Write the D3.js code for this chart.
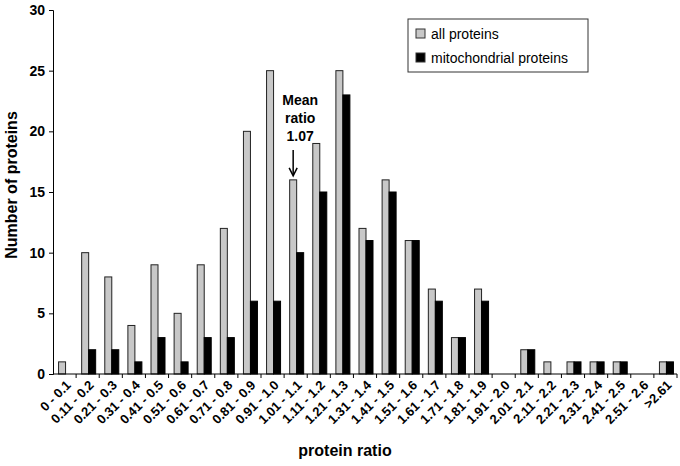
<!DOCTYPE html>
<meta charset="utf-8">
<style>
  body { margin: 0; background: white; }
  text { font-family: Arial, "Liberation Sans", sans-serif; }
  .axis path, .axis line { stroke: black; stroke-width: 1px; }
  .axis text { font-weight: bold; fill: black; }
  .title { font-weight: bold; font-size: 16px; }
  .legend text { font-size: 14px; }
</style>
<body>
<script src="https://cdn.jsdelivr.net/npm/d3@7"></script>
<script>

const categories = ["0 - 0.1", "0.11 - 0.2", "0.21 - 0.3", "0.31 - 0.4", "0.41 - 0.5",
  "0.51 - 0.6", "0.61 - 0.7", "0.71 - 0.8", "0.81 - 0.9", "0.91 - 1.0", "1.01 - 1.1",
  "1.11 - 1.2", "1.21 - 1.3", "1.31 - 1.4", "1.41 - 1.5", "1.51 - 1.6", "1.61 - 1.7",
  "1.71 - 1.8", "1.81 - 1.9", "1.91 - 2.0", "2.01 - 2.1", "2.11 - 2.2", "2.21 - 2.3",
  "2.31 - 2.4", "2.41 - 2.5", "2.51 - 2.6", ">2.61"]
const allProteins = [1, 10, 8, 4, 9, 5, 9, 12, 20, 25, 16, 19, 25, 12, 16, 11, 7, 3, 7, 0, 2, 1, 1, 1, 1, 0, 1]
const mitoProteins = [0, 2, 2, 1, 3, 1, 3, 3, 6, 6, 10, 15, 23, 11, 15, 11, 6, 3, 6, 0, 2, 0, 1, 1, 1, 0, 1]
const yTicks = [0, 5, 10, 15, 20, 25, 30]
const seriesNames = ["all proteins", "mitochondrial proteins"]
const colors = {all: "#c8c8c8", mito: "#000000"}

const margin = {top: 10, right: 3, bottom: 92, left: 53},
      width = 680 - margin.left - margin.right,
      height = 466 - margin.top - margin.bottom

const svg = d3.select("body")
  .append("svg")
    .attr("width", 680)
    .attr("height", 466)
  .append("g")
    .attr("transform", `translate(${margin.left}, ${margin.top})`)

const x = d3.scaleBand()
    .domain(categories)
    .range([0, width])

const y = d3.scaleLinear()
    .domain([0, 30])
    .range([height, 0])

const barW = 7

// bars
const groups = svg.selectAll(".grp")
  .data(categories)
  .enter().append("g")
    .attr("transform", d => `translate(${x(d) + x.bandwidth() / 2 + 1}, 0)`)

groups.filter((d, i) => allProteins[i] > 0)
  .append("rect")
    .attr("x", -barW)
    .attr("y", d => y(allProteins[categories.indexOf(d)]))
    .attr("width", barW)
    .attr("height", d => height - y(allProteins[categories.indexOf(d)]))
    .attr("fill", colors.all)
    .attr("stroke", "#222")
    .attr("stroke-width", 1)

groups.filter((d, i) => mitoProteins[i] > 0)
  .append("rect")
    .attr("x", 0)
    .attr("y", d => y(mitoProteins[categories.indexOf(d)]))
    .attr("width", barW)
    .attr("height", d => height - y(mitoProteins[categories.indexOf(d)]))
    .attr("fill", colors.mito)
    .attr("stroke", "#000")
    .attr("stroke-width", 1)

// y axis
svg.append("g")
  .attr("class", "axis")
  .call(d3.axisLeft(y).tickValues(yTicks).tickSize(4).tickPadding(4))
  .call(g => g.selectAll("text").style("font-size", "14px"))

// x axis with ticks on band edges
const xAxis = svg.append("g")
  .attr("class", "axis")
  .attr("transform", `translate(0, ${height})`)

xAxis.append("line")
  .attr("x1", 0).attr("x2", width)
  .attr("y1", 0).attr("y2", 0)

xAxis.selectAll(".tick")
  .data(categories)
  .enter().append("line")
    .attr("x1", d => x(d) + x.bandwidth())
    .attr("x2", d => x(d) + x.bandwidth())
    .attr("y1", 0).attr("y2", 4)

xAxis.selectAll(".lbl")
  .data(categories)
  .enter().append("text")
    .text(d => d)
    .attr("text-anchor", "end")
    .style("font-size", "13px")
    .attr("transform", d => `translate(${x(d) + x.bandwidth() / 2 + 7}, 12) rotate(-45)`)

// axis titles
svg.append("text")
  .attr("class", "title")
  .attr("x", width / 2 - 20)
  .attr("y", height + 82)
  .attr("text-anchor", "middle")
  .text("protein ratio")

svg.append("text")
  .attr("class", "title")
  .attr("transform", `translate(${-36}, ${height / 2 - 7}) rotate(-90)`)
  .attr("text-anchor", "middle")
  .text("Number of proteins")

// mean annotation
const meanCat = "1.01 - 1.1"
const meanX = x(meanCat) + x.bandwidth() / 2 - barW / 2 + 1
const ann = svg.append("text")
  .attr("class", "title")
  .style("font-size", "14px")
  .attr("text-anchor", "middle")
ann.append("tspan").attr("x", meanX + 7).attr("y", 95).text("Mean")
ann.append("tspan").attr("x", meanX + 7).attr("y", 113).text("ratio")
ann.append("tspan").attr("x", meanX + 7).attr("y", 131).text("1.07")

svg.append("line")
  .attr("x1", meanX).attr("x2", meanX)
  .attr("y1", 140).attr("y2", y(16) - 5)
  .attr("stroke", "black").attr("stroke-width", 1.5)
svg.append("path")
  .attr("d", `M${meanX - 4},${y(16) - 12} L${meanX},${y(16) - 4} L${meanX + 4},${y(16) - 12}`)
  .attr("fill", "none").attr("stroke", "black").attr("stroke-width", 1.5)

// legend
const legend = svg.append("g")
  .attr("class", "legend")
  .attr("transform", `translate(${408 - margin.left}, ${19 - margin.top})`)

legend.append("rect")
  .attr("width", 180).attr("height", 53)
  .attr("fill", "white").attr("stroke", "#333")

const legColors = [colors.all, colors.mito]
seriesNames.forEach((name, i) => {
  legend.append("rect")
    .attr("x", 8).attr("y", 10 + i * 24)
    .attr("width", 9).attr("height", 9)
    .attr("fill", legColors[i]).attr("stroke", "#333")
  legend.append("text")
    .attr("x", 23).attr("y", 20 + i * 24)
    .text(name)
})

</script>
</body>
